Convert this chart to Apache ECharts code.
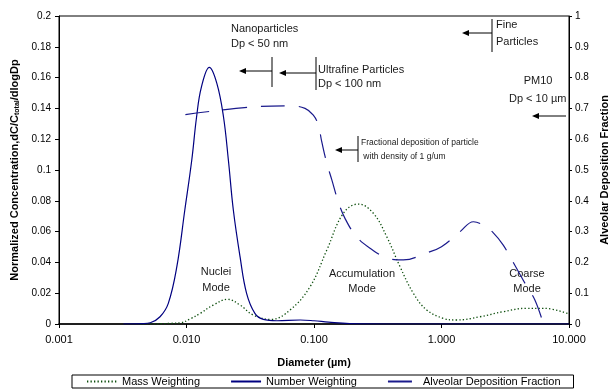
<!DOCTYPE html>
<html>
<head>
<meta charset="utf-8">
<script src="https://cdn.jsdelivr.net/npm/echarts@6/dist/echarts.min.js"></script>
<style>
  html, body { margin: 0; padding: 0; background: #fff; }
  #chart { width: 610px; height: 390px; }
</style>
</head>
<body>
<div id="chart"></div>
<script>
// diameters in um
var numX = [0.0032, 0.0045, 0.0052, 0.0062, 0.0072, 0.0084, 0.0097, 0.011, 0.012, 0.0131, 0.0151, 0.0173, 0.0195, 0.0213, 0.0233, 0.0263, 0.0296, 0.0344, 0.040, 0.051, 0.078, 0.10, 0.13, 0.19, 0.5, 1, 3, 10];
var numY = [0, 0.0002, 0.0008, 0.0047, 0.0134, 0.0372, 0.074, 0.1065, 0.1346, 0.154, 0.1667, 0.1563, 0.1346, 0.1065, 0.074, 0.0437, 0.0199, 0.0069, 0.003, 0.0021, 0.0026, 0.0021, 0.0012, 0.0003, 0, 0, 0, 0];

var massX = [0.0043, 0.0089, 0.0108, 0.0128, 0.0162, 0.0211, 0.0263, 0.0334, 0.0462, 0.0649, 0.0931, 0.126, 0.17, 0.2226, 0.292, 0.372, 0.473, 0.602, 0.766, 1.03, 1.315, 2.0, 3.05, 4.66, 6.3, 10];
var massY = [0, 0.0008, 0.0035, 0.0069, 0.0123, 0.016, 0.0123, 0.0058, 0.003, 0.0091, 0.0242, 0.048, 0.0719, 0.0779, 0.0719, 0.0567, 0.0372, 0.0199, 0.0091, 0.0037, 0.0026, 0.0047, 0.008, 0.0102, 0.0102, 0.0065];

var alvX = [0.0098, 0.0315, 0.065, 0.085, 0.0988, 0.108, 0.115, 0.126, 0.138, 0.155, 0.175, 0.216, 0.275, 0.383, 0.502, 0.766, 1.0, 1.4, 1.78, 2.13, 2.55, 3.05, 3.77, 4.52, 5.4, 6.3];
var alvY = [0.68, 0.704, 0.708, 0.70, 0.678, 0.646, 0.592, 0.522, 0.468, 0.397, 0.343, 0.283, 0.246, 0.213, 0.208, 0.231, 0.251, 0.30, 0.332, 0.321, 0.296, 0.256, 0.19, 0.132, 0.078, 0.0];

var seriesNames = ['Mass Weighting', 'Number Weighting', 'Alveolar Deposition Fraction'];

function pairs(xs, ys) {
  return xs.map(function (x, i) { return [x, ys[i]]; });
}

var font = "'Liberation Sans', Arial, sans-serif";
var ink = '#1a1a1a';

function txt(x, y, s, size, align) {
  return {
    type: 'text', x: x, y: y, silent: true,
    style: { text: s, fontSize: size || 11, fontFamily: font, fill: ink, align: align || 'left', verticalAlign: 'middle' }
  };
}
function bar(x, y1, y2) {
  return { type: 'line', silent: true, shape: { x1: x, y1: y1, x2: x, y2: y2 }, style: { stroke: '#000', lineWidth: 1 } };
}
function arrow(x1, x2, y) {
  return [
    { type: 'line', silent: true, shape: { x1: x1, y1: y, x2: x2 + 6, y2: y }, style: { stroke: '#000', lineWidth: 1 } },
    { type: 'polygon', silent: true, shape: { points: [[x2, y], [x2 + 7, y - 3], [x2 + 7, y + 3]] }, style: { fill: '#000' } }
  ];
}

var notes = [].concat(
  txt(231, 29, 'Nanoparticles'),
  txt(231, 44, 'Dp < 50 nm'),
  bar(272, 57, 87), arrow(272, 239, 71),
  bar(316, 57, 90), arrow(316, 279, 73),
  txt(318, 70, 'Ultrafine Particles'),
  txt(318, 84, 'Dp < 100 nm'),
  bar(492, 19, 52), arrow(492, 462, 33),
  txt(496, 25, 'Fine'),
  txt(496, 42, 'Particles'),
  txt(538, 81, 'PM10', 11, 'center'),
  txt(509, 99, 'Dp < 10 \u00b5m'),
  arrow(566, 532, 116),
  bar(358, 136, 162), arrow(358, 335, 150),
  txt(361, 143, 'Fractional deposition of particle', 8.5),
  txt(361, 157, ' with density of 1 g/um', 8.5),
  txt(216, 272, 'Nuclei', 11, 'center'),
  txt(216, 288, 'Mode', 11, 'center'),
  txt(362, 274, 'Accumulation', 11, 'center'),
  txt(362, 289, 'Mode', 11, 'center'),
  txt(527, 274, 'Coarse', 11, 'center'),
  txt(527, 289, 'Mode', 11, 'center')
);

var chart = echarts.init(document.getElementById('chart'));
chart.setOption({
  animation: false,
  textStyle: { fontFamily: font },
  grid: {
    left: 59, right: 41, top: 16, bottom: 66,
    outerBoundsMode: 'none', containLabel: false,
    show: true, borderColor: '#000', borderWidth: 1
  },
  legend: {
    data: seriesNames,
    left: 72, top: 375,
    padding: [1, 13, 1, 14],
    itemGap: 30,
    itemWidth: 30, itemHeight: 10,
    borderColor: '#000', borderWidth: 1,
    itemStyle: { color: 'transparent', borderColor: 'transparent', borderWidth: 0, opacity: 0 },
    textStyle: { fontSize: 11, color: '#000' }
  },
  xAxis: {
    type: 'log', logBase: 10, min: 0.001, max: 10,
    name: 'Diameter (\u00b5m)', nameLocation: 'middle', nameGap: 33,
    nameTextStyle: { fontWeight: 'bold', fontSize: 11, color: '#000' },
    axisLine: { lineStyle: { color: '#000', width: 1.5 } },
    axisTick: { length: 4, lineStyle: { color: '#000' } },
    axisLabel: { color: '#000', fontSize: 11, margin: 10, formatter: function (v) { return v.toFixed(3); } },
    splitLine: { show: false }
  },
  yAxis: [{
    type: 'value', min: 0, max: 0.2, interval: 0.02,
    name: 'Normalized Concentration,dC/C{sub|total}/dlogDp', nameLocation: 'middle', nameGap: 35,
    nameTextStyle: {
      fontWeight: 'bold', fontSize: 11, color: '#000',
      rich: { sub: { fontWeight: 'bold', fontSize: 7, color: '#000', verticalAlign: 'bottom', padding: [4, 0, 0, 0] } }
    },
    axisLine: { show: true, lineStyle: { color: '#000' } },
    axisTick: { show: true, length: 4, lineStyle: { color: '#000' } },
    axisLabel: { color: '#000', fontSize: 10, margin: 8 },
    splitLine: { show: false }
  }, {
    type: 'value', min: 0, max: 1, interval: 0.1, position: 'right',
    name: 'Alveolar Deposition Fraction', nameLocation: 'middle', nameGap: 29,
    nameTextStyle: { fontWeight: 'bold', fontSize: 11, color: '#000' },
    axisLine: { show: true, lineStyle: { color: '#000' } },
    axisTick: { show: true, length: 3, lineStyle: { color: '#000' } },
    axisLabel: { color: '#000', fontSize: 10, margin: 6 },
    splitLine: { show: false }
  }],
  series: [{
    name: seriesNames[0], type: 'line', symbol: 'none', smooth: 0.4, z: 2,
    data: pairs(massX, massY),
    lineStyle: { color: '#0b4d0b', width: 1.3, type: [1.3, 2.2] },
    itemStyle: { color: '#0b4d0b' }
  }, {
    name: seriesNames[1], type: 'line', symbol: 'none', smooth: 0.4, z: 3,
    data: pairs(numX, numY),
    lineStyle: { color: '#000080', width: 1.2 },
    itemStyle: { color: '#000080' }
  }, {
    name: seriesNames[2], type: 'line', symbol: 'none', smooth: 0.4, yAxisIndex: 1, z: 3,
    data: pairs(alvX, alvY),
    lineStyle: { color: '#1a1a8c', width: 1.2, type: [24, 14] },
    itemStyle: { color: '#1a1a8c' }
  }],
  graphic: notes
});
</script>
</body>
</html>
